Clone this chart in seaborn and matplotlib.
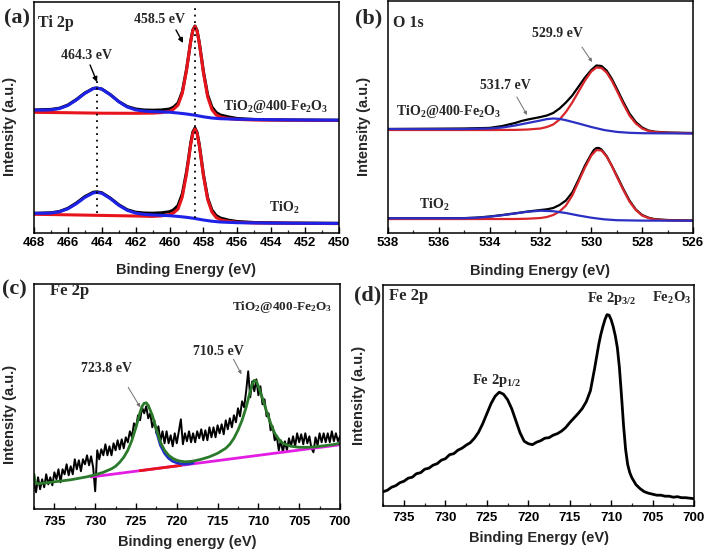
import numpy as np
import pandas as pd
import matplotlib
matplotlib.use("Agg")
import matplotlib.pyplot as plt
from matplotlib.ticker import MultipleLocator
import seaborn as sns

# ---------------- data (heights in arbitrary units) ----------------
# (a) Ti 2p
a_e_black = [468, 467, 466.5, 466, 465.5, 465, 464.5, 464.3, 464, 463.5, 463, 462.5, 462, 461.5, 461,
             460.5, 460, 459.75, 459.5, 459.25, 459, 458.875, 458.75, 458.625, 458.5, 458.375, 458.25,
             458.125, 458, 457.75, 457.5, 457.25, 457, 456.5, 456, 455, 453, 450]
a_top_black = [123, 123.6, 124.8, 128, 133.5, 140, 144.6, 145, 144, 138.5, 131.5, 126.5, 124, 123, 122.8,
               123, 124, 126, 130, 141, 163.5, 177.5, 192, 203, 207, 202.5, 191, 176.5, 161.5, 138, 126,
               120.5, 118, 116, 114.5, 113.5, 113, 112.8]
a_bot_black = [19.7, 20.2, 21.5, 24.7, 30, 36.4, 40.8, 41.2, 40.3, 35, 28.3, 23.3, 20.8, 20, 19.8, 20.2,
               21.3, 23.3, 27.5, 39, 61, 75, 90, 101, 105, 100.5, 89, 74, 58.5, 35, 23, 17.5, 15, 12.8,
               11.5, 10.5, 10, 9.7]
a_e_red = [468, 466, 464, 462, 461, 460.5, 460, 459.75, 459.5, 459.25, 459, 458.875, 458.75, 458.625,
           458.5, 458.375, 458.25, 458.125, 458, 457.75, 457.5, 457.25, 457, 456.5, 456, 455, 450]
a_top_red = [120.7, 120.3, 119.8, 119.7, 119.9, 120.4, 121.6, 124, 127.9, 139.5, 162.5, 177, 191.6, 202.5,
             206.5, 202, 190.4, 175.5, 160.2, 136.1, 123.4, 118.1, 116, 114.4, 113.6, 113, 112.5]
a_bot_red = [18.7, 18.2, 17.6, 17.0, 16.6, 17.1, 18.4, 20.3, 24, 36, 59, 73.5, 88.5, 99.5, 104, 99.5, 88,
             73, 57.5, 33.5, 21, 15.5, 13.2, 11.6, 10.8, 10.0, 9.4]
a_e_blue = [468, 467.5, 467, 466.5, 466, 465.5, 465, 464.5, 464.3, 464, 463.5, 463, 462.5, 462, 461.5,
            461, 460, 459.5, 459, 458.5, 458, 457.5, 457, 456, 454, 452, 450]
a_top_blue = [123.0, 122.9, 123.2, 124.4, 127.6, 133.0, 139.6, 144.4, 145.0, 143.9, 138.3, 131.3, 126.0,
              123.1, 121.9, 121.4, 120.8, 120.0, 119.0, 117.8, 116.2, 115.0, 114.3, 113.8, 113.3, 113.0, 112.8]
a_bot_blue = [19.7, 19.7, 20.0, 21.2, 24.2, 29.3, 35.6, 40.1, 40.6, 39.8, 34.5, 27.8, 22.7, 19.9, 18.6,
              18.1, 17.3, 16.6, 15.7, 14.5, 13.0, 11.8, 11.0, 10.3, 9.9, 9.7, 9.6]
a_peaks = [464.3, 458.5]
a_dot_low = [20, 15]
a_dot_high = [155, 226]

# (b) O 1s
b_e_black_top = [538, 536, 535, 534, 533.5, 533, 532.75, 532.5, 532, 531.75, 531.5, 531.25, 531, 530.75,
                 530.5, 530.25, 530, 529.8, 529.6, 529.4, 529.2, 529, 528.75, 528.5, 528.25, 528, 527.75,
                 527.5, 527, 526]
b_top_black = [103.5, 103.8, 104, 104.6, 106.5, 109.5, 111.5, 113, 115.5, 117, 119.5, 124, 130, 137, 146,
               155, 162.5, 167, 166.5, 162, 154, 144, 131, 119, 110.5, 105, 102, 100.8, 100, 99.5]
b_e_black_bot = [538, 535, 534.5, 534, 533.5, 533, 532.5, 532, 531.75, 531.5, 531.25, 531, 530.75, 530.5,
                 530.25, 530, 529.9, 529.8, 529.7, 529.6, 529.4, 529.2, 529, 528.75, 528.5, 528.25, 528,
                 527.75, 527.5, 527, 526]
b_bot_black = [14.2, 14.4, 14.9, 16, 17.5, 19.2, 21, 22.5, 23.2, 24.5, 27.5, 32, 40, 53, 67, 78.5, 82.5,
               84.5, 84.5, 83, 76.5, 67, 57, 44, 32, 23, 17.5, 14.8, 13.3, 12.5, 12]
b_e_red = [538, 536, 534, 533, 532.5, 532, 531.75, 531.5, 531.25, 531, 530.75, 530.5, 530.25, 530, 529.8,
           529.6, 529.4, 529.2, 529, 528.75, 528.5, 528.25, 528, 527.75, 527.5, 527, 526]
b_top_red = [102.5, 102.5, 102.5, 102.6, 103, 104, 105.5, 108, 113, 120.5, 130, 141, 152, 161, 165, 164.5,
             160, 152, 142, 129, 117, 109, 104, 101.5, 100.5, 99.7, 99.2]
b_bot_red = [13.5, 13.5, 13.5, 13.5, 13.8, 14.5, 15.5, 17.5, 21, 27, 37, 51, 65, 77, 82.5, 82, 76, 67, 56,
             43, 31, 22.5, 17, 14.5, 13, 12.2, 11.8]
b_e_blue_top = [538, 535, 534, 533.5, 533, 532.5, 532, 531.75, 531.5, 531.25, 531, 530.5, 530, 529.5, 529,
                528.5, 528, 526]
b_top_blue = [103.5, 103.5, 104, 105, 107, 109.5, 112, 113.4, 114, 113.6, 112.3, 109, 105.5, 102.5, 100.6,
              99.7, 99.3, 99]
b_e_blue_bot = [538, 535, 534.5, 534, 533.5, 533, 532.5, 532, 531.5, 531, 530.5, 530, 529.5, 529, 528, 526]
b_bot_blue = [14.2, 14.3, 14.8, 15.8, 17.3, 19, 20.8, 21.8, 21.3, 19.5, 17, 14.8, 13.2, 12.3, 11.9, 11.8]

# (c) Fe 2p, TiO2@400-Fe2O3 (raw counts, 0.25 eV steps from 737.5 to 700)
c_raw = [28, 17, 32, 20, 30, 22, 35, 25, 32, 24, 37, 30, 40, 27, 40, 35, 45, 34, 43, 35,
         50, 40, 49, 38, 50, 45, 54, 44, 53, 42, 18, 59, 50, 60, 54, 65, 54, 63, 54, 66,
         59, 69, 60, 70, 61, 72, 67, 78, 72, 86, 82, 94, 89, 102, 96, 103, 91, 96, 82, 89,
         76, 83, 68, 78, 66, 78, 66, 74, 63, 76, 66, 78, 90, 65, 76, 68, 78, 67, 76, 67,
         78, 71, 80, 69, 79, 69, 82, 72, 82, 72, 84, 76, 85, 75, 89, 80, 91, 82, 94, 87,
         101, 93, 108, 102, 118, 138, 112, 128, 118, 130, 114, 123, 105, 110, 93, 96, 79, 83, 69, 73,
         59, 69, 57, 68, 59, 71, 63, 73, 63, 76, 67, 75, 65, 76, 66, 73, 61, 57, 72, 64,
         76, 67, 76, 67, 76, 67, 78, 68, 76, 68, 73]
c_e_raw = np.linspace(737.5, 700, len(c_raw))
c_e_fit = [737.5, 737.35, 737, 736, 735, 734, 733, 732, 731, 730, 729, 728, 727.5, 727, 726.5, 726, 725.5,
           725, 724.5, 724.25, 724, 723.75, 723.5, 723, 722.5, 722, 721.5, 721, 720.5, 720, 719.5, 719,
           718.5, 718, 717, 716, 715, 714, 713.5, 713, 712.5, 712, 711.5, 711, 710.75, 710.5, 710.25, 710,
           709.5, 709, 708.5, 708, 707.5, 707, 706, 705, 704, 703, 702, 701, 700]
c_fit = [35, 27, 25.5, 26.5, 27.5, 28.5, 29.5, 31, 32.5, 34.5, 37, 40.5, 43, 47, 52, 59, 69, 82, 97, 103,
         106, 106.5, 104, 94, 80, 67, 59, 54, 51, 49, 48, 47.5, 47.7, 48.2, 50, 52.5, 56, 61, 65, 71,
         79, 89, 102, 118, 125, 129, 128, 123, 111, 98, 86, 76, 70, 66, 63, 62, 62, 62.5, 63.5, 64.5, 66]
c_e_bg = [730.5, 700]
c_bg = [32.3, 64.5]
c_e_bg_red = [724.5, 719.5]
c_bg_red = [38.6, 43.9]
c_e_comp = [722.5, 722, 721.5, 721, 720.5, 720, 719.5, 719, 718.5, 718]
c_comp = [78, 64, 56, 51, 48, 46.5, 45.5, 45.2, 45.5, 46.3]

# (d) Fe 2p, Fe2O3
d_e = [737.5, 737, 736.5, 736, 735.5, 735, 734.5, 734, 733.5, 733, 732.5, 732, 731.5, 731, 730.5, 730,
       729.5, 729, 728.5, 728, 727.5, 727, 726.5, 726, 725.5, 725, 724.5, 724, 723.5, 723, 722.5, 722,
       721.5, 721, 720.5, 720, 719.5, 719, 718.5, 718, 717.5, 717, 716.5, 716, 715.5, 715, 714.5, 714,
       713.5, 713, 712.5, 712, 711.75, 711.5, 711.25, 711, 710.75, 710.5, 710.25, 710, 709.75, 709.5,
       709.25, 709, 708.75, 708.5, 708.25, 708, 707.75, 707.5, 707.25, 707, 706.5, 706, 705.5, 705,
       704.5, 704, 703.5, 703, 702.5, 702, 701.5, 701, 700.5, 700]
d_int = [14, 15.5, 18.5, 20, 23, 24.5, 27.5, 28.5, 32, 33, 36.5, 37.5, 40.5, 42, 45.5, 47, 51, 52, 55.5,
         57.5, 60.5, 63, 67.5, 73.5, 82, 92, 102, 109.5, 113.5, 111.5, 106, 97, 85, 73, 64.5, 62, 61,
         63.5, 65, 67.5, 68, 70.5, 72, 74.5, 78, 83, 87.5, 92, 97, 104, 115, 137, 149, 161, 171, 179,
         186, 191, 190.5, 186, 179, 170, 158, 138, 110, 80, 56, 41, 33, 28, 24.5, 21, 17, 14, 12.5,
         11.5, 10.5, 10.5, 9.5, 9.5, 8.5, 9, 8, 8, 7.5, 7]

# ---------------- style ----------------
sns.set_style("ticks")
plt.rcParams["font.family"] = ["Liberation Sans", "DejaVu Sans"]
plt.rcParams["mathtext.fontset"] = "custom"
plt.rcParams["mathtext.rm"] = "Liberation Serif:bold"
plt.rcParams["mathtext.it"] = "Liberation Serif:bold"
plt.rcParams["mathtext.bf"] = "Liberation Serif:bold"
plt.rcParams["mathtext.default"] = "rm"

SER = dict(family=["Liberation Serif", "DejaVu Serif"], fontweight="bold")
RED, BLUE = "#e8141c", "#1e22e6"
RED_B, BLUE_B = "#d8262b", "#2b2fc2"


def line(ax, x, y, color, lw):
    sns.lineplot(x=x, y=y, ax=ax, color=color, lw=lw, legend=False, sort=False)


def style(ax, xlim, ytop, major, minor, ticks, xlabel, xlab_y, ylab_y, pad):
    ax.set_xlim(*xlim)
    ax.set_ylim(0, ytop)
    ax.set_yticks([])
    ax.set_xticks(ticks)
    ax.set_xticklabels([str(t) for t in ticks], fontweight="bold", fontsize=9.5)
    ax.xaxis.set_minor_locator(MultipleLocator(minor))
    ax.tick_params(axis="x", which="major", direction="in", length=4, width=1, pad=pad, colors="black")
    ax.tick_params(axis="x", which="minor", direction="in", length=2.5, width=0.9)
    for s in ax.spines.values():
        s.set_visible(True)
        s.set_color("black")
        s.set_linewidth(1.1)
    ax.set_xlabel(xlabel, fontweight="bold", fontsize=10.5)
    ax.xaxis.set_label_coords(0.5, xlab_y)
    ax.set_ylabel("Intensity (a.u.)", fontweight="bold", fontsize=10.5)
    ax.yaxis.set_label_coords(-0.056, ylab_y)


def arrow(ax, tail, tip, color, lw, ms):
    ax.annotate("", xy=tip, xytext=tail,
                arrowprops=dict(arrowstyle="-|>", color=color, lw=lw, mutation_scale=ms,
                                shrinkA=0, shrinkB=0))


fig = plt.figure(figsize=(7.08, 5.54), dpi=100)
ax_a = fig.add_axes([0.048, 0.5794, 0.4308, 0.4170])
ax_b = fig.add_axes([0.548, 0.5803, 0.4308, 0.4179])
ax_c = fig.add_axes([0.048, 0.0807, 0.4322, 0.4067])
ax_d = fig.add_axes([0.5414, 0.0872, 0.4388, 0.3984])

# ---- (a)
for xs, ys in [(a_e_black, a_top_black), (a_e_black, a_bot_black)]:
    line(ax_a, xs, ys, "black", 2.2)
for xs, ys in [(a_e_red, a_top_red), (a_e_red, a_bot_red)]:
    line(ax_a, xs, ys, RED, 2.2)
for xs, ys in [(a_e_blue, a_top_blue), (a_e_blue, a_bot_blue)]:
    line(ax_a, xs, ys, BLUE, 2.2)
ax_a.vlines(a_peaks, a_dot_low, a_dot_high, colors="black", linestyles=(0, (1, 2.6)), lw=1.3)
style(ax_a, (468, 450), 231, 2, 1, list(range(468, 449, -2)), "Binding Energy (eV)", -0.13, 0.46, 3)
ax_a.text(467.76, 210, "Ti 2p", fontsize=11.5, ha="left", va="center", **SER)
ax_a.text(464.9, 177, "464.3 eV", fontsize=10, ha="center", va="center", **SER)
ax_a.text(460.62, 213, "458.5 eV", fontsize=10, ha="center", va="center", **SER)
arrow(ax_a, (464.69, 168), (464.28, 151), "black", 1.0, 7)
arrow(ax_a, (459.62, 203), (459.2, 190), "black", 1.0, 7)
ax_a.text(450.65, 123, r"TiO$_2$@400-Fe$_2$O$_3$", fontsize=10, ha="right", va="baseline", **SER)
ax_a.text(454.13, 21.3, r"TiO$_2$", fontsize=10, ha="left", va="baseline", **SER)
fig.text(0.024, 0.966, "(a)", fontsize=16, ha="center", va="center", **SER)

# ---- (b)
line(ax_b, b_e_black_top, b_top_black, "black", 1.6)
line(ax_b, b_e_black_bot, b_bot_black, "black", 1.6)
line(ax_b, b_e_red, b_top_red, RED_B, 1.6)
line(ax_b, b_e_red, b_bot_red, RED_B, 1.6)
line(ax_b, b_e_blue_top, b_top_blue, BLUE_B, 1.6)
line(ax_b, b_e_blue_bot, b_bot_blue, BLUE_B, 1.6)
style(ax_b, (538, 526), 231.5, 2, 1, list(range(538, 525, -2)), "Binding Energy (eV)", -0.134, 0.46, 3)
ax_b.text(537.8, 209.5, "O 1s", fontsize=11.5, ha="left", va="center", **SER)
ax_b.text(531.33, 198.5, "529.9 eV", fontsize=10, ha="center", va="center", **SER)
ax_b.text(533.4, 147.5, "531.7 eV", fontsize=10, ha="center", va="center", **SER)
arrow(ax_b, (530.37, 185.5), (529.97, 170.5), "#707070", 0.7, 5)
arrow(ax_b, (532.93, 135.5), (532.53, 117.5), "#707070", 0.7, 5)
ax_b.text(537.69, 117.5, r"TiO$_2$@400-Fe$_2$O$_3$", fontsize=10, ha="left", va="baseline", **SER)
ax_b.text(536.78, 23.2, r"TiO$_2$", fontsize=10, ha="left", va="baseline", **SER)
fig.text(0.52, 0.966, "(b)", fontsize=16, ha="center", va="center", **SER)

# ---- (c)
line(ax_c, list(c_e_raw), c_raw, "black", 1.4)
line(ax_c, c_e_bg, c_bg, "#e21ee2", 2.0)
line(ax_c, c_e_bg_red, c_bg_red, "#e8141c", 2.0)
line(ax_c, c_e_comp, c_comp, "#2030c8", 2.0)
line(ax_c, c_e_fit, c_fit, "#2b7a2b", 2.0)
style(ax_c, (737.5, 700), 225.3, 5, 2.5, list(range(735, 699, -5)), "Binding energy (eV)", -0.115, 0.42, 4.5)
ax_c.text(735.53, 218, "Fe 2p", fontsize=12, ha="left", va="center", **SER)
ax_c.text(701.0, 199, r"TiO$_2$@400-Fe$_2$O$_3$", fontsize=9.5, ha="right", va="baseline", **SER)
ax_c.text(728.65, 141, "723.8 eV", fontsize=10, ha="center", va="center", **SER)
ax_c.text(714.96, 158, "710.5 eV", fontsize=10, ha="center", va="center", **SER)
arrow(ax_c, (725.95, 122), (724.48, 102), "#707070", 0.7, 5)
arrow(ax_c, (713.05, 150), (712.07, 135), "#707070", 0.7, 5)
fig.text(0.0205, 0.478, "(c)", fontsize=16, ha="center", va="center", **SER)

# ---- (d)
line(ax_d, d_e, d_int, "black", 2.0)
style(ax_d, (737.5, 700), 220.7, 5, 2.5, list(range(735, 699, -5)), "Binding Energy (eV)", -0.113, 0.5, 4.5)
ax_d.text(736.81, 209.7, "Fe 2p", fontsize=12, ha="left", va="center", **SER)
ax_d.text(712.92, 204, r"Fe 2p$_{3/2}$", fontsize=10.5, ha="left", va="baseline", **SER)
ax_d.text(705.07, 204, r"Fe$_2$O$_3$", fontsize=10.5, ha="left", va="baseline", **SER)
ax_d.text(726.8, 122, r"Fe 2p$_{1/2}$", fontsize=10.5, ha="left", va="baseline", **SER)
fig.text(0.519, 0.4675, "(d)", fontsize=16, ha="center", va="center", **SER)

fig.savefig("out.png", dpi=100)
